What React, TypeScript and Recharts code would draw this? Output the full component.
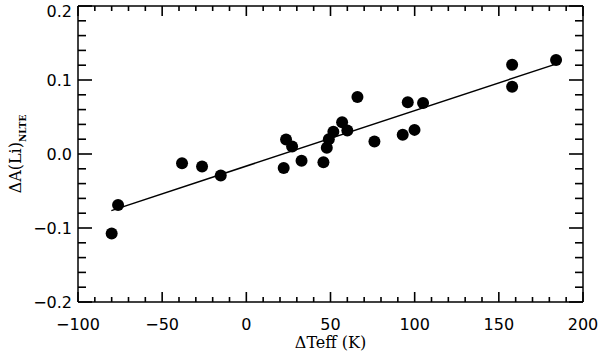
import React from 'react';
import { ScatterChart, Scatter, XAxis, YAxis } from 'recharts';

const dTeff = [-80, -76.2, -38.2, -26.3, -15.2, 22.2, 23.6, 27.2, 32.8, 45.8, 47.8, 49.0, 51.7, 56.9, 60.0, 66.0, 76.1, 92.9, 95.9, 99.9, 105.0, 157.9, 157.9, 184.0];
const dALi = [-0.1075, -0.069, -0.0124, -0.0168, -0.029, -0.019, 0.0195, 0.010, -0.009, -0.011, 0.0083, 0.020, 0.030, 0.043, 0.0317, 0.077, 0.017, 0.026, 0.070, 0.0326, 0.069, 0.1205, 0.091, 0.127];
const fitX = [-80.2, 183.8];
const fitY = [-0.0765, 0.1215];

const xTicks = [-100, -90, -80, -70, -60, -50, -40, -30, -20, -10, 0, 10, 20, 30, 40, 50, 60, 70, 80, 90, 100, 110, 120, 130, 140, 150, 160, 170, 180, 190, 200];
const yTicks = [-0.2, -0.18, -0.16, -0.14, -0.12, -0.1, -0.08, -0.06, -0.04, -0.02, 0, 0.02, 0.04, 0.06, 0.08, 0.1, 0.12, 0.14, 0.16, 0.18, 0.2];
const xMajorTicks = [-100, -50, 0, 50, 100, 150, 200];
const yMajorTicks = [-0.2, -0.1, 0, 0.1, 0.2];
const xMajorLabels = ['\u2212100', '\u221250', '0', '50', '100', '150', '200'];
const yMajorLabels = ['\u22120.2', '\u22120.1', '0.0', '0.1', '0.2'];
const X_MIN = -100, X_MAX = 200, Y_MIN = -0.2, Y_MAX = 0.2;

const points = dTeff.map((x, i) => ({ x, y: dALi[i] }));
const fitLine = fitX.map((x, i) => ({ x, y: fitY[i] }));

const isMajorX = (v: number) => Math.abs(v % 50) < 1e-9;
const isMajorY = (v: number) => Math.abs(v * 10 - Math.round(v * 10)) < 1e-6;

const bottomMarks = xTicks.map((v) => ({ x: v, y: Y_MIN, major: isMajorX(v) }));
const topMarks = xTicks.map((v) => ({ x: v, y: Y_MAX, major: isMajorX(v) }));
const leftMarks = yTicks.map((v) => ({ x: X_MIN, y: v, major: isMajorY(v) }));
const rightMarks = yTicks.map((v) => ({ x: X_MAX, y: v, major: isMajorY(v) }));

const tickFont = { fontFamily: '"DejaVu Sans", sans-serif', fontSize: 16, fill: '#000' };
const TW = 1.6;

const BottomLabel = (p: any) => {
  const i = xMajorTicks.indexOf(p.payload.value);
  return <text x={p.x} y={p.y + 28} textAnchor="middle" {...tickFont}>{xMajorLabels[i]}</text>;
};
const LeftLabel = (p: any) => {
  const i = yMajorTicks.findIndex((t) => Math.abs(t - p.payload.value) < 1e-9);
  return <text x={p.x - 6} y={Math.max(p.y + 6, 17)} textAnchor="end" {...tickFont}>{yMajorLabels[i]}</text>;
};
const Empty = () => <g />;

const BottomMark = (p: any) => <line x1={p.cx} x2={p.cx} y1={p.cy} y2={p.cy - (p.payload.major ? 10 : 5)} stroke="#000" strokeWidth={TW} />;
const TopMark = (p: any) => <line x1={p.cx} x2={p.cx} y1={p.cy} y2={p.cy + (p.payload.major ? 10 : 5)} stroke="#000" strokeWidth={TW} />;
const LeftMark = (p: any) => <line x1={p.cx} x2={p.cx + (p.payload.major ? 14 : 8)} y1={p.cy} y2={p.cy} stroke="#000" strokeWidth={TW} />;
const RightMark = (p: any) => <line x1={p.cx} x2={p.cx - (p.payload.major ? 14 : 8)} y1={p.cy} y2={p.cy} stroke="#000" strokeWidth={TW} />;

const XTitle = (p: any) => {
  const vb = p.viewBox;
  return (
    <text x={vb.x + vb.width / 2} y={vb.y + 46} textAnchor="middle" fontFamily='"DejaVu Serif", serif' fontSize={16} fill="#000">
      {'\u0394Teff (K)'}
    </text>
  );
};
const YTitle = (p: any) => {
  const vb = p.viewBox;
  const cx = 21;
  const cy = vb.y + vb.height / 2;
  return (
    <text x={cx} y={cy} transform={`rotate(-90 ${cx} ${cy})`} textAnchor="middle" fontFamily='"DejaVu Serif", serif' fontSize={16} fill="#000">
      <tspan>{'\u0394A(Li)'}</tspan>
      <tspan fontSize={9} fontWeight="bold" dy={5}>NLTE</tspan>
    </text>
  );
};

const Dot = (p: any) => <circle cx={p.cx} cy={p.cy} r={6} fill="#000" />;

export default function App() {
  return (
    <div style={{ position: 'absolute', left: 0, top: 0, background: '#fff' }}>
      <ScatterChart width={600} height={354} margin={{ top: 5, right: 0, bottom: 0, left: 0 }}>
        <XAxis xAxisId="x" type="number" dataKey="x" domain={[X_MIN, X_MAX]} ticks={xMajorTicks} interval={0}
          height={52} tickSize={0} tickMargin={0} tickLine={false} tick={BottomLabel}
          axisLine={{ stroke: '#000', strokeWidth: 1.5 }} label={<XTitle />} />
        <XAxis xAxisId="xt" orientation="top" type="number" dataKey="x" domain={[X_MIN, X_MAX]} ticks={xMajorTicks} interval={0}
          height={1} tickSize={0} tickMargin={0} tickLine={false} tick={Empty}
          axisLine={{ stroke: '#000', strokeWidth: 1.5 }} />
        <YAxis yAxisId="y" type="number" dataKey="y" domain={[Y_MIN, Y_MAX]} ticks={yMajorTicks} interval={0}
          width={78} tickSize={0} tickMargin={0} tickLine={false} tick={LeftLabel}
          axisLine={{ stroke: '#000', strokeWidth: 1.5 }} label={<YTitle />} />
        <YAxis yAxisId="yr" orientation="right" type="number" dataKey="y" domain={[Y_MIN, Y_MAX]} ticks={yMajorTicks} interval={0}
          width={17} tickSize={0} tickMargin={0} tickLine={false} tick={Empty}
          axisLine={{ stroke: '#000', strokeWidth: 1.5 }} />
        <Scatter xAxisId="x" yAxisId="y" data={bottomMarks} shape={BottomMark} isAnimationActive={false} />
        <Scatter xAxisId="x" yAxisId="y" data={topMarks} shape={TopMark} isAnimationActive={false} />
        <Scatter xAxisId="x" yAxisId="y" data={leftMarks} shape={LeftMark} isAnimationActive={false} />
        <Scatter xAxisId="x" yAxisId="y" data={rightMarks} shape={RightMark} isAnimationActive={false} />
        <Scatter xAxisId="x" yAxisId="y" data={fitLine} line={{ stroke: '#000', strokeWidth: 1.5 }} shape={Empty} isAnimationActive={false} />
        <Scatter xAxisId="x" yAxisId="y" data={points} shape={Dot} isAnimationActive={false} />
      </ScatterChart>
    </div>
  );
}
